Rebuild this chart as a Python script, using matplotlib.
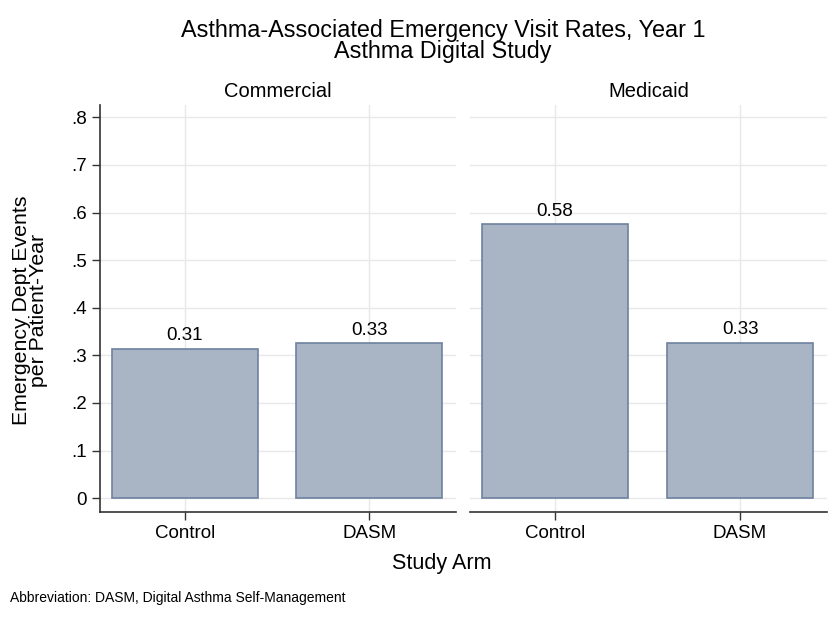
import matplotlib
matplotlib.use("Agg")
import matplotlib.pyplot as plt
import numpy as np

plt.rcParams['font.family'] = ['Liberation Sans', 'DejaVu Sans']

# data
panels = ["Commercial", "Medicaid"]
arms = ["Control", "DASM"]
commercial_rates = [0.313, 0.325]
medicaid_rates = [0.575, 0.327]
commercial_labels = ["0.31", "0.33"]
medicaid_labels = ["0.58", "0.33"]
y_ticks = [0, 0.1, 0.2, 0.3, 0.4, 0.5, 0.6, 0.7, 0.8]
y_ticklabels = ["0", ".1", ".2", ".3", ".4", ".5", ".6", ".7", ".8"]

bar_color = "#a9b5c5"
edge_color = "#6d819e"
grid_color = "#e8e8e8"

fig = plt.figure(figsize=(8.29, 6.23), dpi=100)
ax1 = fig.add_axes([100/829, 1 - 512/623, 356/829, (512-105)/623])
ax2 = fig.add_axes([470/829, 1 - 512/623, 357/829, (512-105)/623])

x = np.arange(1, len(arms) + 1)
for ax, name, vals, labs in [(ax1, panels[0], commercial_rates, commercial_labels),
                             (ax2, panels[1], medicaid_rates, medicaid_labels)]:
    ax.set_axisbelow(True)
    ax.grid(True, color=grid_color, linewidth=1)
    ax.bar(x, vals, width=0.79, color=bar_color, edgecolor=edge_color, linewidth=1.2)
    for xi, v, l in zip(x, vals, labs):
        ax.text(xi, v + 0.01, l, ha="center", va="bottom", fontsize=13.5)
    ax.set_xlim(0.54, 2.47)
    ax.set_ylim(-0.029, 0.826)
    ax.set_xticks(x)
    ax.set_xticklabels(arms, fontsize=13.5)
    ax.set_yticks(y_ticks)
    ax.tick_params(axis="x", length=6, width=1, color="#333333", pad=3)
    ax.tick_params(axis="y", length=6, width=1, color="#333333")
    for s in ["top", "right"]:
        ax.spines[s].set_visible(False)
    ax.spines["bottom"].set_color("#333333")
    ax.spines["bottom"].set_linewidth(1.2)
    ax.set_title(name, fontsize=14.5, pad=6)

ax1.set_yticklabels(y_ticklabels, fontsize=13.5)
ax1.spines["left"].set_color("#333333")
ax1.spines["left"].set_linewidth(1.2)
ax2.spines["left"].set_visible(False)
ax2.tick_params(axis="y", length=0, labelleft=False)

fig.text(443/829, 1 - 41/623,
         "Asthma-Associated Emergency Visit Rates, Year 1\nAsthma Digital Study",
         ha="center", va="center", fontsize=16.8, linespacing=0.92)
fig.text(442/829, 1 - 563/623, "Study Arm", ha="center", va="center", fontsize=15.5)
fig.text(30/829, 1 - 310/623, "Emergency Dept Events\nper Patient-Year", rotation=90,
         ha="center", va="center", fontsize=15.3, linespacing=0.92)
fig.text(10/829, 1 - 598/623, "Abbreviation: DASM, Digital Asthma Self-Management",
         ha="left", va="center", fontsize=10)

fig.savefig("out.png", dpi=100)
